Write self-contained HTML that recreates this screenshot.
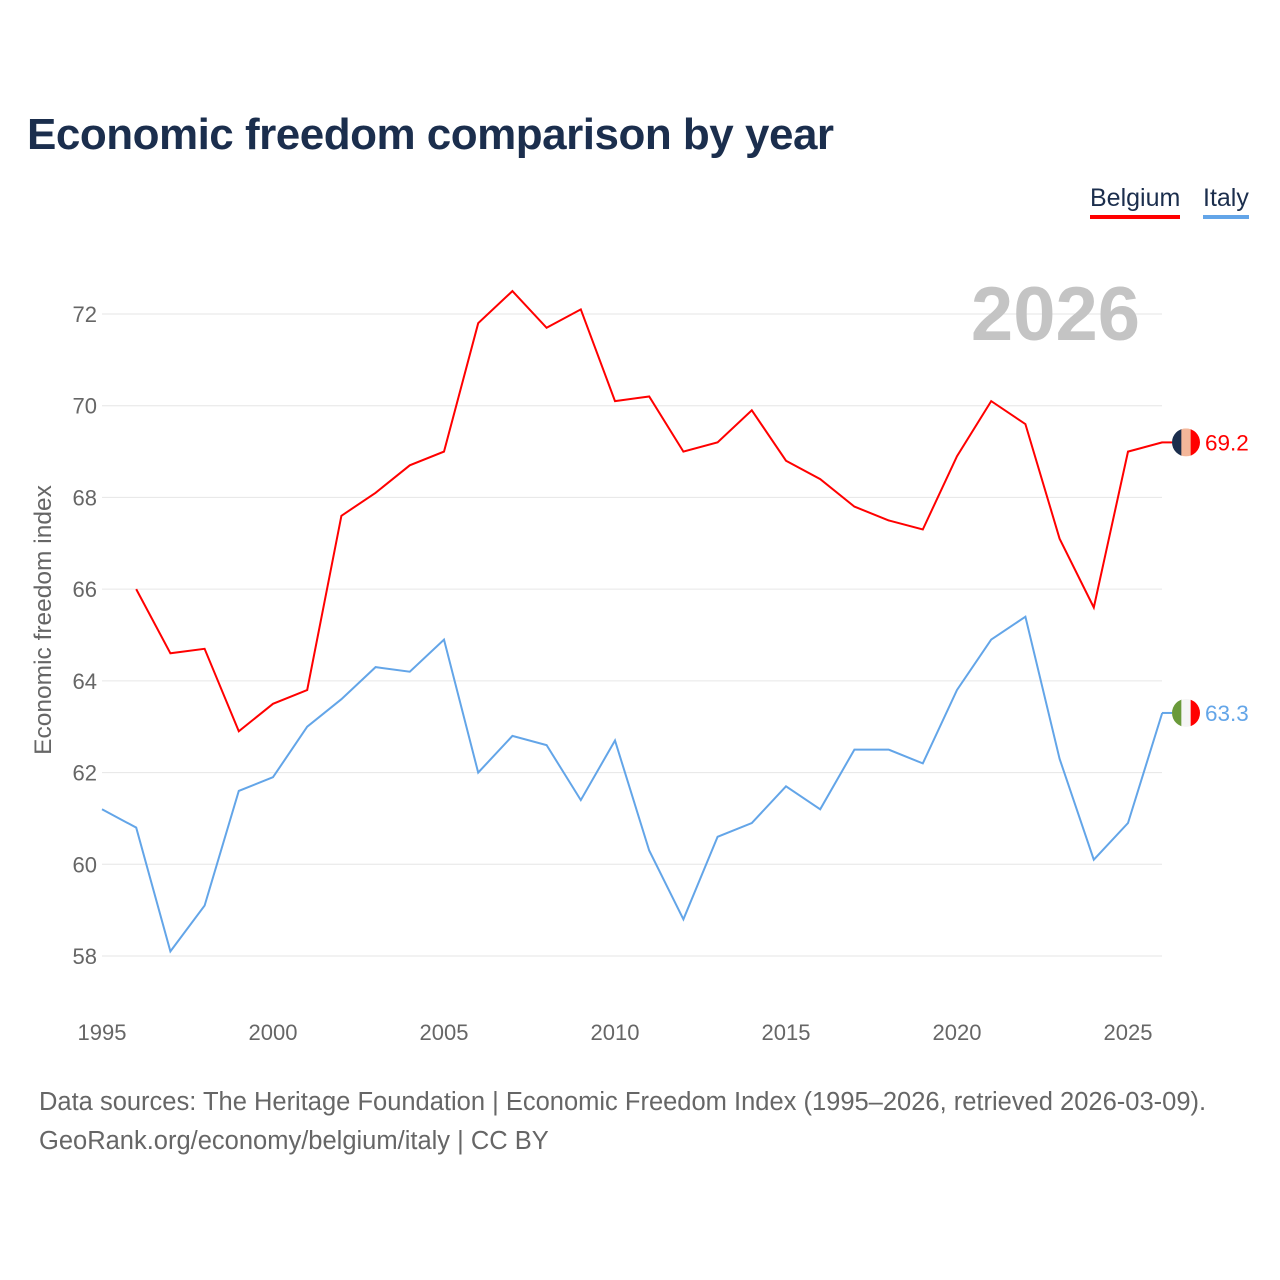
<!DOCTYPE html>
<html><head><meta charset="utf-8">
<style>
body{margin:0;background:#fff;font-family:"Liberation Sans",sans-serif;}
#wrap{position:relative;width:1280px;height:1280px;overflow:hidden;}
h1{position:absolute;left:27px;top:110px;margin:0;font-size:44px;font-weight:bold;color:#1b2e4d;letter-spacing:-0.5px;}
.leg{position:absolute;top:184px;font-size:25px;color:#1b2e4d;padding-bottom:2px;}
.foot{position:absolute;left:39px;font-size:25.5px;color:#666;}
</style></head><body>
<div id="wrap">
<h1>Economic freedom comparison by year</h1>
<div class="leg" style="left:1090px;border-bottom:4px solid #ff0000">Belgium</div>
<div class="leg" style="left:1203px;border-bottom:4px solid #63a5e8">Italy</div>
<svg id="chart" width="1280" height="1280" style="position:absolute;left:0;top:0"></svg>
<div class="foot" style="top:1088px">Data sources: The Heritage Foundation | Economic Freedom Index (1995–2026, retrieved 2026-03-09).</div>
<div class="foot" style="top:1127px">GeoRank.org/economy/belgium/italy | CC BY</div>
</div>
<script>
const years=[1995,1996,1997,1998,1999,2000,2001,2002,2003,2004,2005,2006,2007,2008,2009,2010,2011,2012,2013,2014,2015,2016,2017,2018,2019,2020,2021,2022,2023,2024,2025,2026];
const belgium=[null,66.0,64.6,64.7,62.9,63.5,63.8,67.6,68.1,68.7,69.0,71.8,72.5,71.7,72.1,70.1,70.2,69.0,69.2,69.9,68.8,68.4,67.8,67.5,67.3,68.9,70.1,69.6,67.1,65.6,69.0,69.2];
const italy=[61.2,60.8,58.1,59.1,61.6,61.9,63.0,63.6,64.3,64.2,64.9,62.0,62.8,62.6,61.4,62.7,60.3,58.8,60.6,60.9,61.7,61.2,62.5,62.5,62.2,63.8,64.9,65.4,62.3,60.1,60.9,63.3];
const yTicks=[58,60,62,64,66,68,70,72];
const xTicks=[1995,2000,2005,2010,2015,2020,2025];
const svg=document.getElementById('chart');const NS='http://www.w3.org/2000/svg';
const X=v=>102+(v-1995)*34.2;
const Y=v=>314+(72-v)*45.857;
function mk(t,a,txt){const e=document.createElementNS(NS,t);for(const k in a)e.setAttribute(k,a[k]);if(txt!=null)e.textContent=txt;svg.appendChild(e);return e;}
yTicks.forEach(t=>{
 const l=mk('line',{x1:102,x2:1162,y1:Y(t),y2:Y(t),stroke:'#e6e6e6','stroke-width':1});
 
 
 const tx=mk('text',{x:97,y:Y(t)+8,'text-anchor':'end','font-size':22,fill:'#666','font-family':'Liberation Sans'},t);
 
 
});
xTicks.forEach(t=>{
 const tx=mk('text',{x:X(t),y:1040,'text-anchor':'middle','font-size':22,fill:'#666','font-family':'Liberation Sans'},t);
 
 
});
const yt=mk('text',{x:0,y:0,transform:'translate(51,620) rotate(-90)','text-anchor':'middle','font-size':24.5,fill:'#666','font-family':'Liberation Sans'},'Economic freedom index');


const yr=mk('text',{x:1140,y:340,'text-anchor':'end','font-size':76,'font-weight':'bold',fill:'#c4c4c4','font-family':'Liberation Sans'},'2026');


function series(arr,color,name){
 let d='';arr.forEach((v,i)=>{if(v==null)return;d+=(d?'L':'M')+X(years[i]).toFixed(1)+','+Y(v).toFixed(1);});
 const p=mk('path',{d:d,fill:'none',stroke:color,'stroke-width':2});
 
 
}
series(belgium,'#ff0000','belgium');
series(italy,'#63a5e8','italy');
function flag(v,cols,name,color){
 const cx=1186,cy=Y(v);
 const g=document.createElementNS(NS,'g');svg.appendChild(g);
 
 
 const id='c'+name;
 const cp=document.createElementNS(NS,'clipPath');cp.setAttribute('id',id);
 const c=document.createElementNS(NS,'circle');c.setAttribute('cx',cx);c.setAttribute('cy',cy);c.setAttribute('r',14);cp.appendChild(c);g.appendChild(cp);
 cols.forEach((col,i)=>{const r=document.createElementNS(NS,'rect');r.setAttribute('x',cx-14+i*28/3);r.setAttribute('y',cy-14);r.setAttribute('width',28/3+0.5);r.setAttribute('height',28);r.setAttribute('fill',col);r.setAttribute('clip-path','url(#'+id+')');g.appendChild(r);});
 const ln=mk('line',{x1:1162,x2:1172,y1:cy,y2:cy,stroke:color,'stroke-width':2});
 const t=mk('text',{x:1205,y:cy+8,'font-size':22.5,fill:color,'font-family':'Liberation Sans'},v.toFixed(1));
 
 
}
flag(belgium[belgium.length-1],['#1b2e4d','#f4b79a','#ff0000'],'belgium','#ff0000');
flag(italy[italy.length-1],['#6a9a3a','#f5f5f5','#ff0000'],'italy','#63a5e8');
</script>
</body></html>
